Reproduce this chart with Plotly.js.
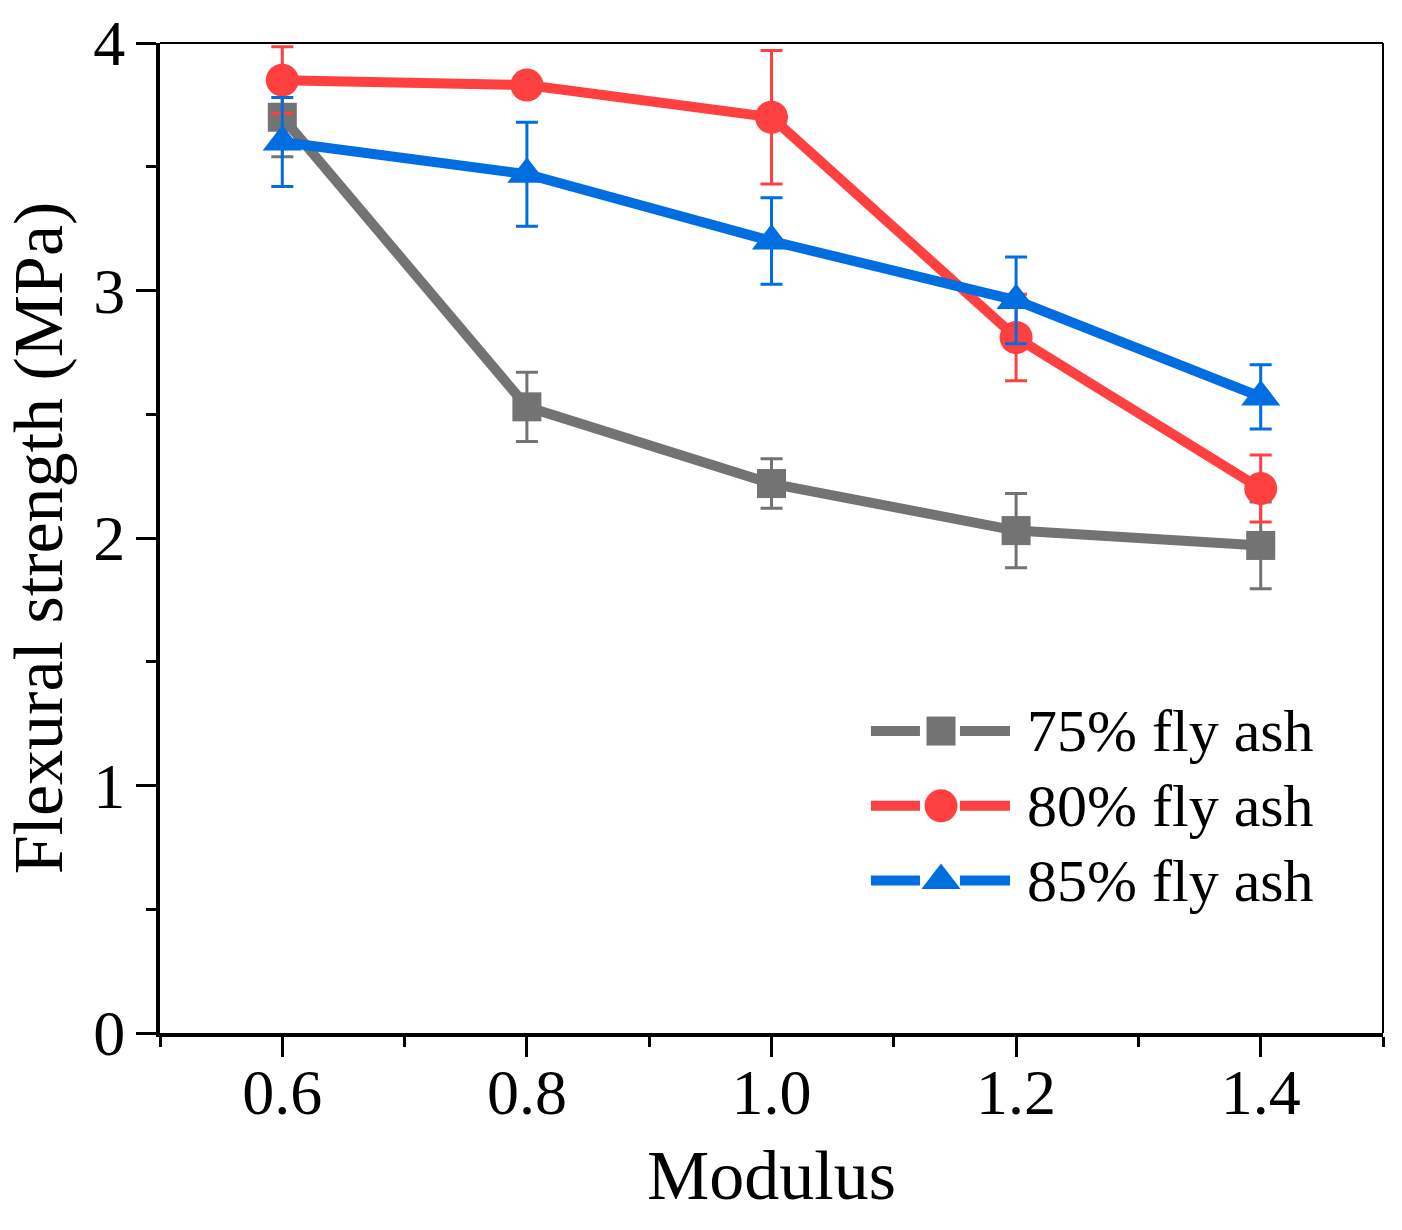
<!DOCTYPE html>
<html>
<head>
<meta charset="utf-8">
<script src="https://cdn.plot.ly/plotly-3.0.1.min.js"></script>
<style>
  html, body { margin: 0; padding: 0; background: #fff; }
  #chart { width: 1402px; height: 1230px; }
</style>
</head>
<body>
<div id="chart"></div>
<script>
// values
const modulus = [0.6, 0.8, 1.0, 1.2, 1.4];

const names = ["75% fly ash", "80% fly ash", "85% fly ash"];
const ash75 = [3.70, 2.53, 2.22, 2.03, 1.97];
const ash75Err = [0.16, 0.14, 0.10, 0.15, 0.175];
const ash80 = [3.85, 3.83, 3.70, 2.81, 2.20];
const ash80Err = [0.135, 0.03, 0.27, 0.175, 0.135];
const ash85 = [3.60, 3.47, 3.20, 2.96, 2.57];
const ash85Err = [0.18, 0.21, 0.175, 0.175, 0.13];

const xTicks = [0.6, 0.8, 1.0, 1.2, 1.4];
const yTicks = [0, 1, 2, 3, 4];

const colors = ["#737373", "#FF4040", "#006EE0"];
const symbols = ["square", "circle", "triangle-up"];
const sizes = [29, 33, 34];
const LINE_W = 10;
const FONT = "'Liberation Serif', 'Times New Roman', serif";

const series = [ash75, ash80, ash85];
const errs = [ash75Err, ash80Err, ash85Err];

let data = [];
series.forEach((ys, i) => {
  data.push({
    x: modulus,
    y: ys,
    name: names[i],
    type: "scatter",
    mode: "lines+markers",
    line: { color: colors[i], width: LINE_W },
    marker: { symbol: symbols[i], size: sizes[i], color: colors[i] },
    error_y: {
      type: "data",
      array: errs[i],
      visible: true,
      color: colors[i],
      thickness: 3,
      width: 11,
    },
    hoverinfo: "none",
    showlegend: false,
  });
});

// hand-made legend on an overlay axis (0..1 of the plot area)
const legLine = [0.5813, 0.6214, 0.6386, 0.6541, 0.6950];
const legRows = [0.305, 0.2295, 0.154];
let annotations = [];
names.forEach((name, i) => {
  const yy = legRows[i];
  data.push({
    x: [legLine[0], legLine[1], null, legLine[3], legLine[4]],
    y: [yy, yy, null, yy, yy],
    xaxis: "x2",
    yaxis: "y2",
    mode: "lines",
    line: { color: colors[i], width: LINE_W },
    hoverinfo: "none",
    showlegend: false,
  });
  data.push({
    x: [legLine[2]],
    y: [yy],
    xaxis: "x2",
    yaxis: "y2",
    mode: "markers",
    marker: { symbol: symbols[i], size: sizes[i], color: colors[i] },
    hoverinfo: "none",
    showlegend: false,
  });
  annotations.push({
    xref: "x2",
    yref: "y2",
    x: 0.707,
    y: yy,
    xanchor: "left",
    yanchor: "middle",
    text: name,
    showarrow: false,
    font: { family: FONT, size: 60, color: "#000" },
  });
});

const layout = {
  width: 1402,
  height: 1230,
  margin: { l: 160, r: 19, t: 43, b: 197 },
  paper_bgcolor: "#fff",
  plot_bgcolor: "#fff",
  showlegend: false,
  font: { family: FONT, size: 64, color: "#000" },
  xaxis: {
    range: [0.5, 1.5],
    tickvals: xTicks,
    ticktext: xTicks.map((v) => v.toFixed(1)),
    ticks: "outside",
    ticklen: 20,
    tickwidth: 3,
    tickcolor: "#000",
    minor: { tickvals: [0.5, 0.7, 0.9, 1.1, 1.3, 1.5], ticks: "outside", ticklen: 10, tickwidth: 3, tickcolor: "#000" },
    showline: true,
    linewidth: 4,
    linecolor: "#000",
    showgrid: false,
    zeroline: false,
    tickfont: { family: FONT, size: 64 },
    ticklabelstandoff: -20,
    title: { text: "Modulus", font: { family: FONT, size: 70 }, standoff: 24 },
    automargin: false,
  },
  yaxis: {
    range: [0, 4],
    tickvals: yTicks,
    ticks: "outside",
    ticklen: 20,
    tickwidth: 3,
    tickcolor: "#000",
    minor: { tickvals: [0.5, 1.5, 2.5, 3.5], ticks: "outside", ticklen: 10, tickwidth: 3, tickcolor: "#000" },
    showline: true,
    linewidth: 4,
    linecolor: "#000",
    showgrid: false,
    zeroline: false,
    tickfont: { family: FONT, size: 64 },
    ticklabelstandoff: -2,
    title: { text: "Flexural strength (MPa)", font: { family: FONT, size: 70 }, standoff: 40 },
    automargin: false,
  },
  xaxis2: { overlaying: "x", range: [0, 1], visible: false, fixedrange: true },
  yaxis2: { overlaying: "y", range: [0, 1], visible: false, fixedrange: true },
  shapes: [
    { type: "line", xref: "paper", yref: "paper", x0: 0, x1: 1, y0: 1, y1: 1, line: { color: "#000", width: 2 } },
    { type: "line", xref: "paper", yref: "paper", x0: 1, x1: 1, y0: 0, y1: 1, line: { color: "#000", width: 2 } },
  ],
  annotations: annotations,
};

Plotly.newPlot("chart", data, layout, { staticPlot: true, displayModeBar: false });
</script>
</body>
</html>
